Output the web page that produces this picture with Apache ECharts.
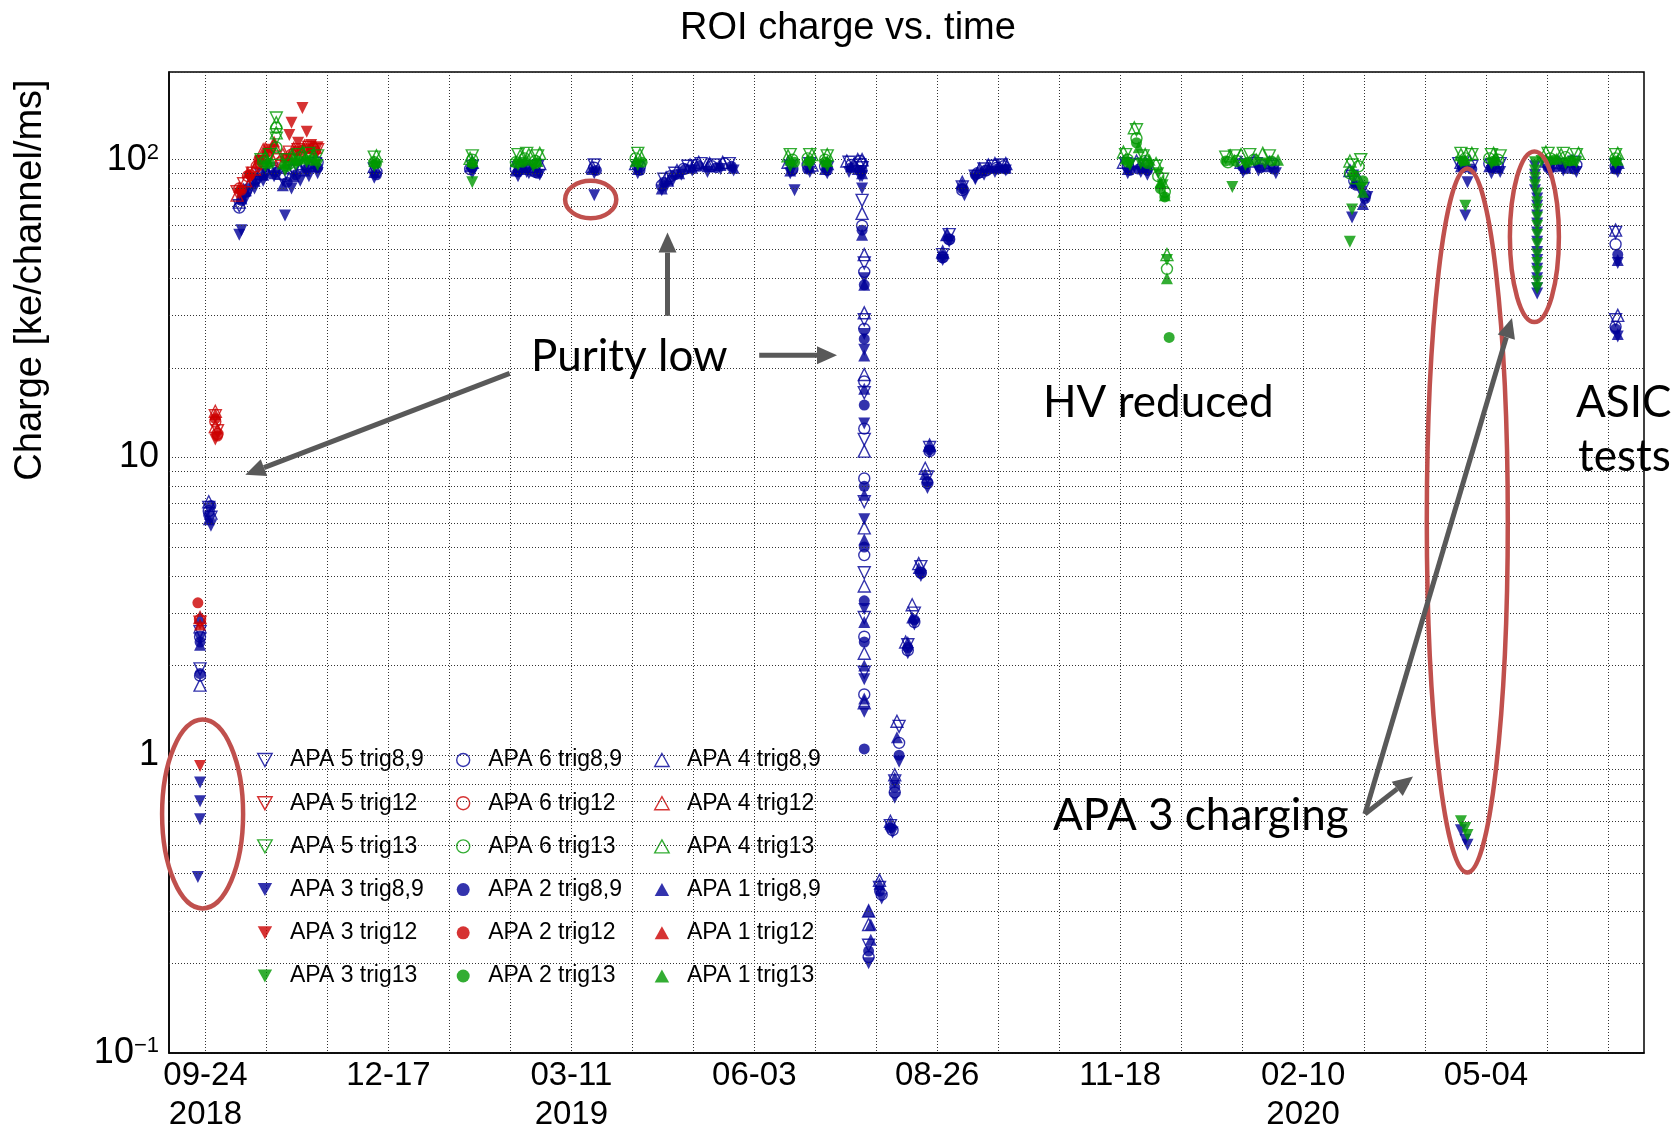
<!DOCTYPE html>
<html><head><meta charset="utf-8">
<script src="https://cdn.jsdelivr.net/npm/echarts@6/dist/echarts.min.js"></script>
<style>html,body{margin:0;padding:0;background:#fff}#c{width:1672px;height:1134px}</style>
</head><body><div id="c"></div>
<script>
// ---------------- DATA ----------------
const xLabelDates = ['2018-09-24','2018-12-17','2019-03-11','2019-06-03','2019-08-26','2019-11-18','2020-02-10','2020-05-04'];
const xLabelTexts = ['09-24\n2018','12-17','03-11\n2019','06-03','08-26','11-18','02-10\n2020','05-04'];
const yMinorGrid = [0.2,0.3,0.4,0.5,0.6,0.7,0.8,0.9,2,3,4,5,6,7,8,9,20,30,40,50,60,70,80,90];

const apa5_trig89 = [
 ['2018-09-21',2.6],['2018-09-21',1.95],['2018-09-25',6.8],['2018-09-26',6.3],
 ['2018-10-09',70],['2018-10-11',76],['2018-10-15',84],['2018-10-19',89],['2018-10-24',93],['2018-10-29',86],['2018-11-03',92],['2018-11-08',95],['2018-11-13',97],
 ['2018-12-10',93],['2019-01-24',95],['2019-02-14',94],['2019-02-18',92],['2019-02-23',95],['2019-03-21',96],['2019-04-10',94],
 ['2019-04-22',86],['2019-04-27',90],['2019-05-03',95],['2019-05-09',97],['2019-05-15',96],['2019-05-22',97],
 ['2019-06-19',95],['2019-06-28',97],['2019-07-06',94],['2019-07-16',98],['2019-07-21',96],
 ['2019-07-22',94],['2019-07-22',73],['2019-07-23',45],['2019-07-23',29],['2019-07-23',16.5],['2019-07-23',11.5],['2019-07-23',7.1],['2019-07-23',4.1],['2019-07-23',2.9],['2019-07-23',1.9],
 ['2019-07-25',0.23],['2019-07-30',0.36],['2019-08-04',0.58],['2019-08-06',0.82],['2019-08-08',1.25],['2019-08-12',2.35],['2019-08-15',3.0],['2019-08-18',4.3],['2019-08-21',8.6],['2019-08-22',10.8],
 ['2019-08-28',48],['2019-08-31',56],['2019-09-06',81],['2019-09-12',88],['2019-09-16',93],['2019-09-20',95],['2019-09-24',96],
 ['2019-11-20',97],['2019-11-24',96],['2019-11-29',95],['2020-01-12',96],['2020-01-19',97],['2020-01-26',95],
 ['2020-03-03',88],['2020-03-08',80],['2020-04-21',97],['2020-04-27',95],['2020-05-06',96],['2020-05-10',97],
 ['2020-05-31',97],['2020-06-06',96],['2020-06-13',98],['2020-07-02',96],['2020-07-02',57],['2020-07-02',29]
];
const apa6_trig89 = [
 ['2018-09-21',2.5],['2018-09-21',1.85],['2018-09-25',6.6],
 ['2018-10-09',69],['2018-10-12',78],['2018-10-16',86],['2018-10-20',91],['2018-10-25',92],['2018-10-30',88],['2018-11-04',93],['2018-11-09',96],['2018-11-14',98],
 ['2018-12-11',91],['2019-01-23',93],['2019-02-13',93],['2019-02-17',96],['2019-02-22',91],['2019-03-21',94],['2019-04-11',95],
 ['2019-04-21',82],['2019-04-25',88],['2019-05-01',93],['2019-05-07',96],['2019-05-14',95],['2019-05-20',97],
 ['2019-06-20',93],['2019-06-27',96],['2019-07-05',95],['2019-07-17',96],['2019-07-21',99],
 ['2019-07-22',97],['2019-07-22',60],['2019-07-23',42],['2019-07-23',27],['2019-07-23',18],['2019-07-23',12.5],['2019-07-23',8.5],['2019-07-23',4.7],['2019-07-23',2.5],['2019-07-23',1.6],
 ['2019-07-25',0.21],['2019-07-31',0.34],['2019-08-05',0.56],['2019-08-06',0.75],['2019-08-08',1.1],['2019-08-12',2.25],['2019-08-15',2.8],['2019-08-18',4.1],['2019-08-21',8.2],['2019-08-22',10.5],
 ['2019-08-28',47],['2019-08-31',54],['2019-09-06',79],['2019-09-13',90],['2019-09-17',92],['2019-09-22',94],['2019-09-25',95],
 ['2019-11-21',95],['2019-11-26',97],['2019-11-30',96],['2020-01-13',95],['2020-01-21',96],['2020-01-27',97],
 ['2020-03-04',85],['2020-03-09',76],['2020-04-23',96],['2020-05-05',97],['2020-05-09',95],
 ['2020-06-01',96],['2020-06-08',97],['2020-06-14',96],['2020-07-02',95],['2020-07-02',52],['2020-07-02',27.5]
];
const apa4_trig89 = [
 ['2018-09-21',2.7],['2018-09-21',1.72],['2018-09-25',7.1],['2018-09-26',6.5],
 ['2018-10-09',72],['2018-10-11',79],['2018-10-14',84],['2018-10-19',90],['2018-10-23',94],['2018-10-28',90],['2018-11-02',94],['2018-11-07',97],['2018-11-12',98],
 ['2018-12-10',95],['2019-01-24',98],['2019-02-15',97],['2019-02-19',95],['2019-02-24',97],['2019-03-20',95],['2019-04-09',97],
 ['2019-04-23',87],['2019-04-28',92],['2019-05-04',96],['2019-05-08',98],['2019-05-13',97],['2019-05-19',98],
 ['2019-06-18',98],['2019-06-29',96],['2019-07-06',97],['2019-07-15',99],['2019-07-20',100],
 ['2019-07-22',100],['2019-07-22',66],['2019-07-23',48],['2019-07-23',30.6],['2019-07-23',19],['2019-07-23',10.5],['2019-07-23',5.8],['2019-07-23',3.7],['2019-07-23',2.2],['2019-07-23',1.5],
 ['2019-07-25',0.30],['2019-07-25',0.27],['2019-07-30',0.38],['2019-08-04',0.6],['2019-08-06',0.86],['2019-08-07',1.3],['2019-08-11',2.4],['2019-08-14',3.2],['2019-08-17',4.4],['2019-08-20',9.2],['2019-08-22',11],
 ['2019-08-28',49],['2019-08-30',56],['2019-09-06',84],['2019-09-14',93],['2019-09-18',96],['2019-09-21',97],['2019-09-26',97],
 ['2019-11-19',98],['2019-11-25',99],['2019-11-29',98],['2020-01-12',98],['2020-01-18',99],['2020-01-25',98],
 ['2020-03-02',92],['2020-03-06',86],['2020-04-22',98],['2020-04-26',99],['2020-05-07',98],
 ['2020-05-31',99],['2020-06-06',98],['2020-06-12',99],['2020-07-03',98],['2020-07-02',58],['2020-07-03',30]
];
const apa3_trig89 = [
 ['2018-09-21',2.45],['2018-09-21',0.81],['2018-09-21',0.70],['2018-09-21',0.61],['2018-09-20',0.39],['2018-09-26',5.9],
 ['2018-10-09',56],['2018-10-10',58],['2018-10-12',74],['2018-10-16',80],['2018-10-20',85],['2018-10-25',88],['2018-10-30',65],['2018-11-02',80],['2018-11-06',85],['2018-11-10',88],['2018-11-14',90],
 ['2018-12-10',87],['2019-01-24',90],['2019-02-14',88],['2019-02-19',90],['2019-02-24',89],['2019-03-21',90],['2019-03-21',76],['2019-04-10',90],
 ['2019-04-21',79],['2019-04-23',81],['2019-04-26',85],['2019-04-30',89],['2019-05-05',92],['2019-05-12',91],['2019-05-18',93],['2019-05-24',92],
 ['2019-06-19',90],['2019-06-21',79],['2019-06-28',91],['2019-07-06',90],['2019-07-16',91],['2019-07-21',88],
 ['2019-07-22',88],['2019-07-22',80],['2019-07-23',40],['2019-07-23',26],['2019-07-23',23],['2019-07-23',13],['2019-07-23',6.2],['2019-07-23',3.1],['2019-07-23',1.8],['2019-07-23',1.4],
 ['2019-07-25',0.2],['2019-07-31',0.33],['2019-08-05',0.55],['2019-08-06',0.72],['2019-08-08',0.95],['2019-08-12',2.2],['2019-08-15',2.75],['2019-08-18',4.0],['2019-08-21',7.9],['2019-08-22',10.4],
 ['2019-08-28',46],['2019-08-31',53],['2019-09-07',76],['2019-09-12',86],['2019-09-16',89],['2019-09-21',91],['2019-09-26',92],
 ['2019-11-21',90],['2019-11-27',91],['2019-11-30',89],['2020-01-13',91],['2020-01-20',92],['2020-01-28',90],
 ['2020-03-03',64],['2020-03-07',78],['2020-03-10',75],['2020-04-25',84],['2020-04-24',65],['2020-04-22',0.56],['2020-04-24',0.52],['2020-04-25',0.5],['2020-05-06',90],['2020-05-10',91],
 ['2020-05-26',95],['2020-05-26',89],['2020-05-26',84],['2020-05-26',79],['2020-05-27',74],['2020-05-27',70],['2020-05-27',65],['2020-05-27',61],
 ['2020-05-27',57],['2020-05-27',53],['2020-05-27',49],['2020-05-27',46],['2020-05-27',43],['2020-05-27',40],['2020-05-27',37],['2020-05-27',35.5],
 ['2020-06-02',90],['2020-06-08',92],['2020-06-14',91],['2020-07-03',91],['2020-07-03',45],['2020-07-03',25.5]
];
const apa2_trig89 = [
 ['2018-09-21',2.4],['2018-09-21',1.88],['2018-09-25',6.4],['2018-09-26',6.9],
 ['2018-10-10',73],['2018-10-13',80],['2018-10-17',86],['2018-10-21',90],['2018-10-26',91],['2018-10-31',84],['2018-11-04',89],['2018-11-09',93],['2018-11-14',94],
 ['2018-12-11',89],['2019-01-24',94],['2019-02-14',91],['2019-02-18',94],['2019-02-23',90],['2019-03-22',92],['2019-04-11',92],
 ['2019-04-22',84],['2019-04-27',89],['2019-05-02',93],['2019-05-08',95],['2019-05-16',94],['2019-05-23',95],
 ['2019-06-20',92],['2019-06-27',93],['2019-07-06',92],['2019-07-17',94],['2019-07-21',92],
 ['2019-07-22',92],['2019-07-22',58],['2019-07-23',38],['2019-07-23',25],['2019-07-23',15],['2019-07-23',8],['2019-07-23',5.0],['2019-07-23',3.3],['2019-07-23',2.4],['2019-07-23',1.05],
 ['2019-07-25',0.22],['2019-07-30',0.35],['2019-08-04',0.57],['2019-08-06',0.78],['2019-08-08',1.0],['2019-08-12',2.3],['2019-08-15',2.85],['2019-08-18',4.1],['2019-08-21',8.3],['2019-08-22',10.6],
 ['2019-08-28',47],['2019-08-31',54],['2019-09-06',80],['2019-09-12',89],['2019-09-17',92],['2019-09-22',93],['2019-09-26',93],
 ['2019-11-22',92],['2019-11-26',93],['2019-11-30',92],['2020-01-14',93],['2020-01-21',94],['2020-01-27',93],
 ['2020-03-05',82],['2020-03-09',74],['2020-04-23',94],['2020-04-27',93],['2020-05-06',94],
 ['2020-06-01',94],['2020-06-07',95],['2020-06-13',93],['2020-07-02',93],['2020-07-03',48],['2020-07-02',27]
];
const apa1_trig89 = [
 ['2018-09-21',2.35],['2018-09-21',2.9],['2018-09-25',6.2],
 ['2018-10-10',74],['2018-10-12',79],['2018-10-16',85],['2018-10-20',89],['2018-10-25',90],['2018-10-29',82],['2018-11-03',88],['2018-11-08',92],['2018-11-12',95],
 ['2018-12-10',91],['2019-01-23',95],['2019-02-13',92],['2019-02-17',93],['2019-02-22',92],['2019-03-20',93],['2019-04-10',93],
 ['2019-04-21',80],['2019-04-24',85],['2019-04-29',90],['2019-05-05',94],['2019-05-12',95],['2019-05-18',96],['2019-05-24',94],
 ['2019-06-19',92],['2019-06-28',94],['2019-07-05',93],['2019-07-17',95],['2019-07-20',93],
 ['2019-07-22',90],['2019-07-22',56],['2019-07-23',38],['2019-07-23',22],['2019-07-23',17],['2019-07-23',7.5],['2019-07-23',5.3],['2019-07-23',2.8],['2019-07-23',2.0],['2019-07-23',1.55],
 ['2019-07-25',0.30],['2019-07-26',0.27],['2019-07-26',0.24],['2019-07-30',0.37],['2019-08-04',0.59],['2019-08-06',0.84],['2019-08-07',1.15],['2019-08-12',2.4],['2019-08-14',2.9],['2019-08-17',4.25],['2019-08-20',8.8],['2019-08-22',10.9],
 ['2019-08-28',48.5],['2019-08-30',56],['2019-09-06',83],['2019-09-13',91],['2019-09-18',94],['2019-09-23',95],['2019-09-26',94],
 ['2019-11-21',93],['2019-11-28',94],['2020-01-14',94],['2020-01-24',95],
 ['2020-03-04',84],['2020-03-08',71],['2020-04-22',95],['2020-05-05',95],['2020-05-09',94],
 ['2020-06-03',95],['2020-06-10',94],['2020-07-02',94],['2020-07-03',46],['2020-07-03',26]
];

const apa5_trig12 = [
 ['2018-09-21',2.8],['2018-09-28',13.8],['2018-09-29',12.3],
 ['2018-10-08',78],['2018-10-11',83],['2018-10-15',90],['2018-10-19',98],['2018-10-23',104],['2018-10-27',100],['2018-11-01',106],['2018-11-05',108],['2018-11-10',110],['2018-11-14',108]
];
const apa6_trig12 = [
 ['2018-09-21',2.85],['2018-09-28',13.2],['2018-09-29',12.0],
 ['2018-10-09',80],['2018-10-13',88],['2018-10-17',95],['2018-10-22',103],['2018-10-28',98],['2018-11-02',104],['2018-11-07',107],['2018-11-12',109]
];
const apa4_trig12 = [
 ['2018-09-21',2.9],['2018-09-28',14.3],['2018-09-28',12.7],
 ['2018-10-08',76],['2018-10-12',85],['2018-10-16',93],['2018-10-20',108],['2018-10-25',112],['2018-10-29',104],['2018-11-03',109],['2018-11-08',111],['2018-11-13',110]
];
const apa3_trig12 = [
 ['2018-09-21',0.92],['2018-09-28',11.5],
 ['2018-10-09',77],['2018-10-14',87],['2018-10-19',99],['2018-10-24',108],['2018-11-01',121],['2018-11-02',133],['2018-11-07',149],['2018-11-09',124],['2018-11-05',114],['2018-11-11',112],['2018-11-14',110]
];
const apa2_trig12 = [
 ['2018-09-20',3.25],['2018-09-28',13.5],['2018-09-29',11.8],
 ['2018-10-10',79],['2018-10-14',89],['2018-10-18',100],['2018-10-22',106],['2018-10-30',101],['2018-11-04',107],['2018-11-09',109],['2018-11-13',107]
];
const apa1_trig12 = [
 ['2018-09-21',2.75],['2018-09-28',14.0],['2018-09-29',12.5],
 ['2018-10-09',81],['2018-10-13',91],['2018-10-17',97],['2018-10-21',110],['2018-10-25',115],['2018-11-01',103],['2018-11-06',108],['2018-11-11',111]
];

const apa5_trig13 = [
 ['2018-10-19',100],['2018-10-23',104],['2018-10-26',138],['2018-10-26',118],['2018-10-31',100],['2018-11-05',104],['2018-11-10',105],['2018-11-14',103],
 ['2018-12-10',102],['2019-01-24',103],['2019-02-14',104],['2019-02-18',105],['2019-02-23',103],['2019-04-10',105],
 ['2019-06-19',104],['2019-06-28',104],['2019-07-06',103],
 ['2019-11-20',104],['2019-11-25',126],['2019-11-28',103],['2019-12-04',95],['2019-12-07',86],
 ['2020-01-05',102],['2020-01-09',103],['2020-01-16',104],['2020-01-25',103],
 ['2020-03-03',96],['2020-03-07',100],['2020-04-22',105],['2020-04-27',104],['2020-05-06',104],['2020-05-10',103],
 ['2020-06-01',105],['2020-06-08',105],['2020-06-14',104],['2020-07-02',104]
];
const apa6_trig13 = [
 ['2018-10-20',98],['2018-10-26',128],['2018-10-26',110],['2018-11-01',97],['2018-11-06',102],['2018-11-11',103],
 ['2018-12-10',98],['2019-01-24',100],['2019-02-13',98],['2019-02-17',101],['2019-02-22',99],['2019-04-09',101],
 ['2019-06-20',100],['2019-06-27',101],['2019-07-05',100],
 ['2019-11-21',100],['2019-11-25',118],['2019-11-29',99],['2019-12-05',88],['2019-12-08',78],['2019-12-09',43],
 ['2020-01-06',98],['2020-01-10',99],['2020-01-18',100],
 ['2020-03-02',90],['2020-03-06',95],['2020-04-24',101],['2020-05-05',101],['2020-05-09',100],
 ['2020-06-02',101],['2020-06-09',102],['2020-07-02',101]
];
const apa4_trig13 = [
 ['2018-10-21',102],['2018-10-26',133],['2018-10-26',123],['2018-10-26',105],['2018-11-02',103],['2018-11-07',106],['2018-11-12',104],
 ['2018-12-11',103],['2019-01-23',101],['2019-02-15',103],['2019-02-19',104],['2019-02-24',105],['2019-04-11',104],
 ['2019-06-18',103],['2019-06-29',104],['2019-07-06',104],
 ['2019-11-19',106],['2019-11-24',128],['2019-11-29',104],['2019-12-04',97],['2019-12-07',84],['2019-12-09',48],
 ['2020-01-07',103],['2020-01-12',104],['2020-01-22',105],
 ['2020-03-02',99],['2020-03-05',87],['2020-04-22',104],['2020-04-27',105],['2020-05-07',105],
 ['2020-05-31',106],['2020-06-07',104],['2020-06-15',105],['2020-07-03',105]
];
const apa3_trig13 = [
 ['2018-10-21',95],['2018-10-30',92],['2018-11-04',96],['2018-11-09',98],['2018-11-14',96],
 ['2018-12-10',95],['2019-01-24',84],['2019-02-14',96],['2019-02-21',95],['2019-04-10',96],
 ['2019-06-19',95],['2019-06-28',96],['2019-07-06',95],
 ['2019-11-22',96],['2019-11-27',97],['2019-12-05',90],['2019-12-07',82],['2019-12-09',46],
 ['2020-01-08',81],['2020-01-14',96],['2020-01-23',97],
 ['2020-03-03',68],['2020-03-02',53],['2020-03-07',80],['2020-04-22',98],['2020-04-24',70],
 ['2020-04-22',0.6],['2020-04-24',0.57],['2020-04-25',0.54],['2020-05-06',97],
 ['2020-05-26',98],['2020-05-26',92],['2020-05-26',87],['2020-05-26',82],['2020-05-27',77],['2020-05-27',72],['2020-05-27',68],['2020-05-27',64],
 ['2020-05-27',60],['2020-05-27',56],['2020-05-27',52],['2020-05-27',48],['2020-05-27',45],['2020-05-27',42],['2020-05-27',39],['2020-05-27',37],
 ['2020-05-29',99],['2020-06-02',98],['2020-06-09',97],['2020-06-14',98],['2020-07-02',97]
];
const apa2_trig13 = [
 ['2018-10-23',97],['2018-10-31',95],['2018-11-05',99],['2018-11-11',100],
 ['2018-12-11',97],['2019-01-24',97],['2019-02-16',98],['2019-02-22',97],['2019-04-12',98],
 ['2019-06-21',98],['2019-06-28',99],['2019-07-05',98],
 ['2019-11-21',98],['2019-11-25',114],['2019-11-30',97],['2019-12-06',80],['2019-12-08',75],['2019-12-10',25.3],
 ['2020-01-05',99],['2020-01-15',98],['2020-01-26',99],
 ['2020-03-04',88],['2020-03-08',85],['2020-04-23',99],['2020-05-07',99],
 ['2020-06-04',100],['2020-06-11',99],['2020-07-02',99]
];
const apa1_trig13 = [
 ['2018-10-22',99],['2018-10-29',97],['2018-11-03',100],['2018-11-08',101],['2018-11-13',100],
 ['2018-12-10',99],['2019-01-24',99],['2019-02-13',99],['2019-02-18',100],['2019-02-23',99],['2019-04-09',99],
 ['2019-06-19',100],['2019-06-27',100],['2019-07-06',99],
 ['2019-11-20',101],['2019-11-26',110],['2019-12-01',100],['2019-12-06',84],['2019-12-08',76],['2019-12-09',40],
 ['2020-01-09',100],['2020-01-19',101],['2020-01-29',100],
 ['2020-03-03',92],['2020-03-08',78],['2020-04-24',100],['2020-05-08',101],
 ['2020-06-05',101],['2020-06-12',100],['2020-07-03',100]
];

// ---------------- CHART ----------------
const BLUE = '#000099', RED = '#cc0000', GREEN = '#009900';
const DOWN = 'path://M0,0L10,0L5,9Z';
const UP = 'path://M5,0L10,9L0,9Z';
const FONT = '"Liberation Sans", Arial, Helvetica, sans-serif';
const DAY = 86400000;
const toMs = s => { const p = s.split('-').map(Number); return Date.UTC(p[0], p[1]-1, p[2], 12); };
const dayMs = s => { const p = s.split('-').map(Number); return Date.UTC(p[0], p[1]-1, p[2]); };

const origin = dayMs('2018-09-24');
const xMin = origin - 16.76 * DAY;
const xMax = origin + 660.55 * DAY;
const gridTicks = [];
for (let t = origin; t <= xMax; t += 28 * DAY) gridTicks.push(t);
const labelTicks = xLabelDates.map(dayMs);

const specs = [
 {name:'APA 5 trig8,9', data:apa5_trig89, sym:DOWN, open:true, color:BLUE},
 {name:'APA 6 trig8,9', data:apa6_trig89, sym:'circle', open:true, color:BLUE},
 {name:'APA 4 trig8,9', data:apa4_trig89, sym:UP, open:true, color:BLUE},
 {name:'APA 3 trig8,9', data:apa3_trig89, sym:DOWN, open:false, color:BLUE},
 {name:'APA 2 trig8,9', data:apa2_trig89, sym:'circle', open:false, color:BLUE},
 {name:'APA 1 trig8,9', data:apa1_trig89, sym:UP, open:false, color:BLUE},
 {name:'APA 5 trig12', data:apa5_trig12, sym:DOWN, open:true, color:RED},
 {name:'APA 6 trig12', data:apa6_trig12, sym:'circle', open:true, color:RED},
 {name:'APA 4 trig12', data:apa4_trig12, sym:UP, open:true, color:RED},
 {name:'APA 3 trig12', data:apa3_trig12, sym:DOWN, open:false, color:RED},
 {name:'APA 2 trig12', data:apa2_trig12, sym:'circle', open:false, color:RED},
 {name:'APA 1 trig12', data:apa1_trig12, sym:UP, open:false, color:RED},
 {name:'APA 5 trig13', data:apa5_trig13, sym:DOWN, open:true, color:GREEN},
 {name:'APA 6 trig13', data:apa6_trig13, sym:'circle', open:true, color:GREEN},
 {name:'APA 4 trig13', data:apa4_trig13, sym:UP, open:true, color:GREEN},
 {name:'APA 3 trig13', data:apa3_trig13, sym:DOWN, open:false, color:GREEN},
 {name:'APA 2 trig13', data:apa2_trig13, sym:'circle', open:false, color:GREEN},
 {name:'APA 1 trig13', data:apa1_trig13, sym:UP, open:false, color:GREEN}
];
const styleOf = s => s.open
  ? {color:'rgba(0,0,0,0)', borderColor:s.color, borderWidth:1.4}
  : {color:s.color, borderWidth:0};

const gridLine = {color:'#333', width:1, type:[1,2]};

const series = [{
  type:'scatter', name:'_grid', data:[], z:1, silent:true,
  markLine:{silent:true, symbol:['none','none'], label:{show:false}, animation:false,
    lineStyle:gridLine, emphasis:{disabled:true},
    data: yMinorGrid.map(v => ({yAxis:v}))}
}].concat(specs.map(s => ({
  type:'scatter', name:s.name, z:2, silent:true,
  symbol:s.sym, symbolSize: s.sym === 'circle' ? 11 : 12,
  itemStyle:styleOf(s),
  data:s.data.map(p => [toMs(p[0]), p[1]])
})));

const legendCols = [
 ['APA 5 trig8,9','APA 5 trig12','APA 5 trig13','APA 3 trig8,9','APA 3 trig12','APA 3 trig13'],
 ['APA 6 trig8,9','APA 6 trig12','APA 6 trig13','APA 2 trig8,9','APA 2 trig12','APA 2 trig13'],
 ['APA 4 trig8,9','APA 4 trig12','APA 4 trig13','APA 1 trig8,9','APA 1 trig12','APA 1 trig13']
];
const legendLeft = [257, 456, 654];
const legends = legendCols.map((names, i) => ({
  orient:'vertical', left:legendLeft[i], top:747, padding:0,
  itemWidth:40, itemHeight:13, itemGap:17.2, selectedMode:false,
  textStyle:{fontSize:23, fontFamily:FONT, color:'#000', lineHeight:26},
  data:names.map(n => { const s = specs.find(q => q.name === n);
    return {name:n, icon:s.sym, itemStyle:styleOf(s)}; })
}));

const GRAY = '#595959', ANN = '#c0504d';
function arrow(x1, y1, x2, y2) {
  const a = Math.atan2(y2 - y1, x2 - x1), hl = 20, hw = 9;
  const bx = x2 - hl * Math.cos(a), by = y2 - hl * Math.sin(a);
  const px = -Math.sin(a) * hw, py = Math.cos(a) * hw;
  return [
    {type:'line', z:100, shape:{x1:x1, y1:y1, x2:bx, y2:by}, style:{stroke:GRAY, lineWidth:5}},
    {type:'polygon', z:100, shape:{points:[[x2,y2],[bx+px,by+py],[bx-px,by-py]]}, style:{fill:GRAY}}
  ];
}
const ell = (cx, cy, rx, ry) => ({type:'ellipse', z:100, shape:{cx:cx, cy:cy, rx:rx, ry:ry},
  style:{fill:'none', stroke:ANN, lineWidth:4.5}});
const annText = (t, x, y) => ({type:'text', z:100, x:x, y:y,
  style:{text:t, font:'44px Lato, "Open Sans", sans-serif', fill:'#000', align:'left', verticalAlign:'middle'}});

const graphics = [
  {type:'text', z:100, x:31, y:280, rotation:Math.PI/2,
   style:{text:'Charge [ke/channel/ms]', font:'38px ' + FONT, fill:'#000', align:'center', verticalAlign:'middle'}},
  ell(202.6, 814, 40.5, 94.4),
  ell(590.7, 199.5, 25.6, 18.7),
  ell(1467.3, 520.6, 40.5, 352),
  ell(1534.4, 236.8, 24.5, 85.3),
  annText('Purity low', 531, 357),
  annText('HV reduced', 1043, 403),
  annText('ASIC', 1576, 403),
  annText('tests', 1578, 457),
  annText('APA 3 charging', 1053, 816)
].concat(arrow(509.7, 373.4, 245.3, 474.7), arrow(667.5, 315.8, 667.5, 232.6),
         arrow(759.2, 355.2, 837, 355.2), arrow(1364.9, 814, 1512, 318), arrow(1364.9, 814, 1413, 776.6));

const chart = echarts.init(document.getElementById('c'), null, {renderer:'canvas'});
chart.setOption({
  animation:false,
  backgroundColor:'#fff',
  title:{text:'ROI charge vs. time', left:843, top:5, textAlign:'center',
    textStyle:{fontSize:38, fontWeight:'normal', fontFamily:FONT, color:'#000'}},
  grid:{left:169, right:28, top:72, bottom:78, show:true, borderColor:'#000', borderWidth:1.5, backgroundColor:'#fff'},
  legend:legends,
  xAxis:{type:'value', min:xMin, max:xMax,
    axisLine:{show:true, lineStyle:{color:'#000', width:1.5}},
    axisTick:{show:false, customValues:gridTicks},
    splitLine:{show:true, lineStyle:gridLine},
    axisLabel:{customValues:labelTicks, margin:3, fontSize:33, lineHeight:39, fontFamily:FONT, color:'#000',
      formatter: v => { const i = labelTicks.indexOf(v); return i >= 0 ? xLabelTexts[i] : ''; }}},
  yAxis:{type:'log', logBase:10, min:0.1, max:197,
    axisLine:{show:true, lineStyle:{color:'#000', width:1.5}},
    axisTick:{show:false},
    splitLine:{show:true, lineStyle:gridLine},
    axisLabel:{margin:10, showMaxLabel:false, color:'#000',
      formatter: v => { const e = Math.round(Math.log10(v));
        if (e === 0) return '{b|1}'; if (e === 1) return '{b|10}';
        if (e === 2) return '{b|10}{s|2}'; if (e === -1) return '{b|10}{s|\u22121}'; return ''; },
      rich:{b:{fontSize:36, fontFamily:FONT, color:'#000'}, s:{fontSize:22, fontFamily:FONT, color:'#000', verticalAlign:'top'}}}},
  graphic:graphics,
  series:series
});
</script></body></html>
